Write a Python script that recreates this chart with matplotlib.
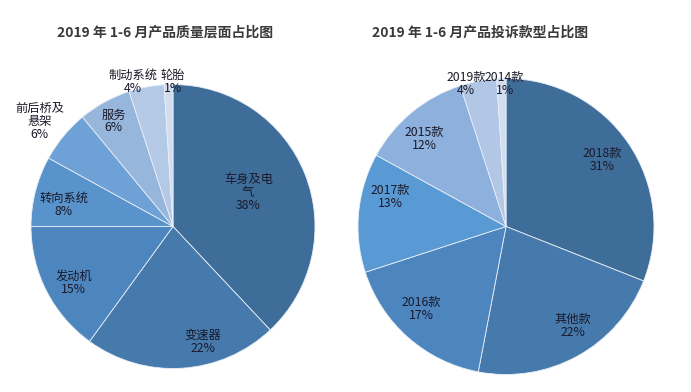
import matplotlib
matplotlib.use("Agg")
import matplotlib.pyplot as plt

plt.rcParams['font.family'] = ['Noto Sans CJK SC', 'DejaVu Sans']

# left chart: quality aspects
quality_title = "2019 年 1-6 月产品质量层面占比图"
quality_names = ["车身及电\n气", "变速器", "发动机", "转向系统", "前后桥及\n悬架", "服务", "制动系统", "轮胎"]
quality_share = [38, 22, 15, 8, 6, 6, 4, 1]

# right chart: model years
model_title = "2019 年 1-6 月产品投诉款型占比图"
model_names = ["2018款", "其他款", "2016款", "2017款", "2015款", "2019款", "2014款"]
model_share = [31, 22, 17, 13, 12, 4, 1]

quality_colors = ["#3f6d99", "#4679ac", "#4d86bf", "#5893cc", "#6ea2d6", "#96b6dc", "#b4c9e6", "#d2def0"]
model_colors = ["#3f6d99", "#4679ac", "#4d86bf", "#5a9ad4", "#8db0dd", "#b2c6e6", "#d2def0"]

# label placement (pie radius units), roughly where the original puts them
quality_label_pos = [(0.53, 0.24), (0.21, -0.81), (-0.70, -0.40), (-0.77, 0.15),
                     (-0.94, 0.74), (-0.42, 0.74), (-0.28, 1.02), (0.0, 1.02)]
model_label_pos = [(0.65, 0.45), (0.45, -0.67), (-0.57, -0.56), (-0.78, 0.20),
                   (-0.55, 0.59), (-0.27, 0.96), (-0.01, 0.96)]

W, H = 691, 392
fig = plt.figure(figsize=(W / 100, H / 100), dpi=100)


def draw_pie(x0, x1, cx, cy, r, values, names, colors, label_pos, title, title_x):
    ax = fig.add_axes([x0 / W, 0, (x1 - x0) / W, 1])
    ax.pie(values, colors=colors, startangle=90, counterclock=False,
           wedgeprops=dict(edgecolor="#e8eef6", linewidth=0.6))
    ax.set_xlim((x0 - cx) / r, (x1 - cx) / r)
    ax.set_ylim((cy - H) / r, cy / r)
    ax.set_aspect("auto")
    ax.axis("off")
    for name, v, (lx, ly) in zip(names, values, label_pos):
        ax.text(lx, ly, f"{name}\n{v}%", ha="center", va="center",
                fontsize=8.8, color="#1a1a2a", linespacing=1.0)
    fig.text(title_x / W, 1 - 33 / H, title, ha="center", va="center",
             fontsize=10, fontweight="bold", color="#3a3a3a")


draw_pie(0, 345, 173, 226.5, 142, quality_share, quality_names, quality_colors,
         quality_label_pos, quality_title, 165)
draw_pie(345, 691, 506, 226.5, 148, model_share, model_names, model_colors,
         model_label_pos, model_title, 480)

fig.savefig("out.png", dpi=100)
